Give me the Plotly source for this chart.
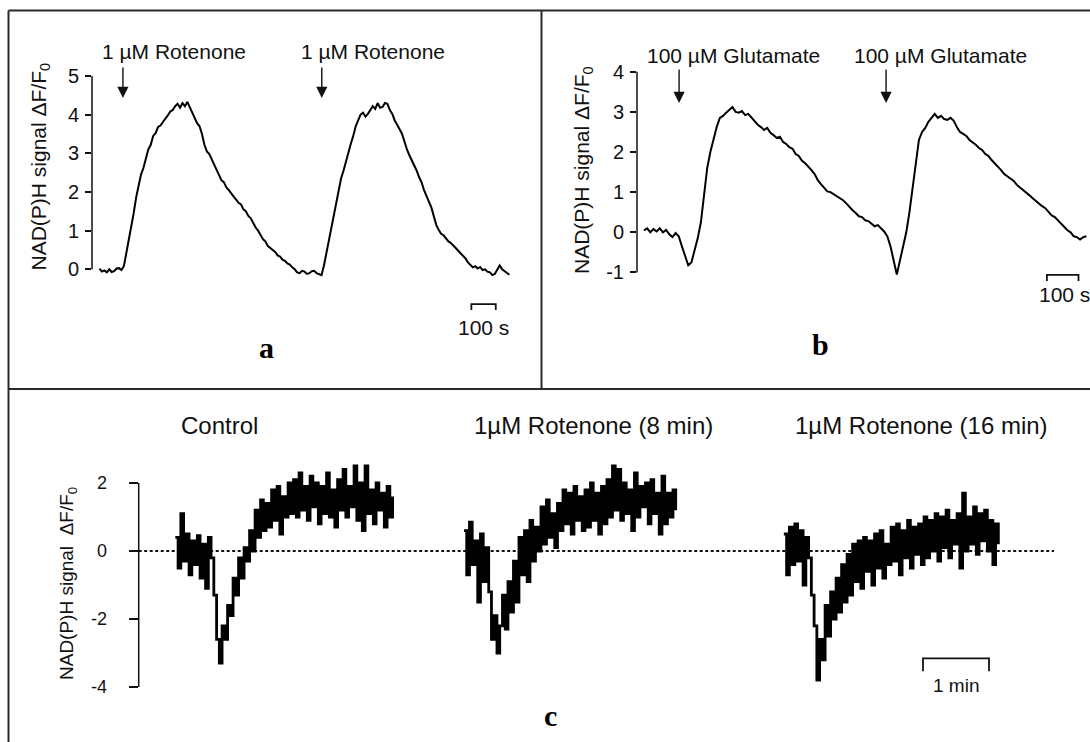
import plotly.graph_objects as go

# ---------------- data ----------------
# Panel a: NAD(P)H signal (dF/F0) with two 1 uM rotenone applications, sampled every 10 s
A_DT_S = 10
a_signal = [0.02, -0.06, -0.03, -0.08, 0.0, -0.07, -0.05, 0.02, 0.03, -0.02,
            0.08, 0.42, 0.72, 1.12, 1.45, 1.85, 2.15, 2.45, 2.62, 2.88,
            3.1, 3.22, 3.45, 3.52, 3.68, 3.72, 3.82, 3.9, 3.98, 4.08,
            4.12, 4.22, 4.28, 4.18, 4.3, 4.22, 4.33, 4.2, 4.05, 3.92,
            3.78, 3.7, 3.5, 3.22, 3.05, 2.98, 2.85, 2.7, 2.6, 2.45,
            2.3, 2.25, 2.12, 2.05, 1.95, 1.88, 1.8, 1.72, 1.68, 1.55,
            1.5, 1.38, 1.32, 1.18, 1.08, 1.0, 0.9, 0.78, 0.72, 0.6,
            0.55, 0.5, 0.45, 0.36, 0.33, 0.25, 0.22, 0.15, 0.12, 0.05,
            0.0, -0.08, -0.1, -0.04, -0.06, -0.12, -0.1, -0.05, -0.04, -0.1,
            -0.12, -0.15, 0.1, 0.42, 0.75, 1.12, 1.45, 1.8, 2.05, 2.35,
            2.55, 2.8, 2.98, 3.25, 3.45, 3.7, 3.85, 4.0, 4.05, 3.95,
            4.02, 4.12, 4.22, 4.15, 4.3, 4.18, 4.2, 4.3, 4.28, 4.12,
            4.02, 3.85, 3.75, 3.62, 3.5, 3.28, 3.1, 2.95, 2.82, 2.7,
            2.55, 2.38, 2.25, 2.05, 1.92, 1.75, 1.6, 1.38, 1.15, 1.02,
            0.92, 0.88, 0.8, 0.72, 0.68, 0.6, 0.55, 0.48, 0.42, 0.35,
            0.28, 0.18, 0.12, 0.05, 0.08, 0.02, 0.06, -0.02, 0.0, -0.06,
            -0.08, -0.15, -0.12, -0.02, 0.1, 0.0, -0.05, -0.1, -0.14]
a_injections_s = [96, 911]
a_injection_label = "1 \u00b5M Rotenone"
a_ticks = [0, 1, 2, 3, 4, 5]

# Panel b: two 100 uM glutamate applications, sampled every 10 s
B_DT_S = 10
b_signal = [0.05, 0.1, 0.0, 0.08, 0.02, 0.1, 0.0, 0.06, -0.05, -0.12,
            -0.02, -0.1, -0.35, -0.6, -0.82, -0.75, -0.45, -0.15, 0.25, 0.95,
            1.6, 2.0, 2.35, 2.62, 2.85, 2.9, 2.98, 3.05, 3.12, 3.0,
            2.98, 3.02, 2.92, 2.95, 2.85, 2.75, 2.68, 2.62, 2.55, 2.6,
            2.48, 2.42, 2.35, 2.38, 2.25, 2.2, 2.12, 2.08, 1.95, 1.9,
            1.78, 1.72, 1.62, 1.55, 1.45, 1.3, 1.2, 1.1, 1.02, 1.0,
            0.95, 0.9, 0.85, 0.8, 0.72, 0.62, 0.55, 0.48, 0.4, 0.38,
            0.3, 0.28, 0.22, 0.15, 0.18, 0.1, 0.02, -0.1, -0.35, -0.7,
            -1.05, -0.7, -0.35, 0.0, 0.5, 1.15, 1.8, 2.3, 2.5, 2.6,
            2.75, 2.85, 2.95, 2.85, 2.9, 2.82, 2.8, 2.85, 2.78, 2.62,
            2.5, 2.45, 2.4, 2.3, 2.25, 2.18, 2.1, 2.05, 1.95, 1.9,
            1.8, 1.72, 1.65, 1.55, 1.45, 1.4, 1.35, 1.28, 1.18, 1.12,
            1.05, 0.98, 0.92, 0.85, 0.78, 0.72, 0.65, 0.6, 0.52, 0.42,
            0.38, 0.3, 0.22, 0.15, 0.05, 0.0, -0.1, -0.12, -0.18, -0.12,
            -0.1]
b_injections_s = [111, 766]
b_injection_label = "100 \u00b5M Glutamate"
b_ticks = [-1, 0, 1, 2, 3, 4]

# Panel c: three recordings, sampled every 2.5 s
C_DT_S = 2.5
c_names = ["Control", "1\u00b5M Rotenone (8 min)", "1\u00b5M Rotenone (16 min)"]
c_start_s = [33.3, 295.7, 586.5]
c_control = [0.4, -0.5, 1.1, -0.3, 0.5, -0.7, 0.3, -0.4, 0.45, -0.8, 0.2, -1.1, 0.4,
             -0.2, -1.3,
             -2.6, -3.3, -2.2, -2.6, -1.6,
             -1.9, -0.8, -1.3, -0.2, -0.8,
             0.1, -0.3, 0.6, 0.0, 1.2,
             0.4, 1.5, 0.6, 1.4, 0.7,
             1.8, 0.9, 1.9, 0.5, 1.6,
             1.0, 2.0, 1.1, 2.1, 1.0, 2.3, 1.2, 1.9, 0.9, 2.2,
             1.3, 2.0, 0.8, 1.9, 1.1, 2.3, 1.0, 1.8, 0.7, 2.1,
             1.2, 2.4, 1.0, 1.9, 1.3, 2.5, 0.9, 2.0, 0.6, 2.5,
             1.1, 1.8, 0.8, 2.0, 1.2, 1.7, 0.7, 1.9, 1.0, 1.6]
c_rot8 = [0.6, -0.7, 0.85, -0.4, 0.3, -1.5, 0.5, -0.9, 0.1,
          -1.2, -2.6, -1.9, -3.0,
          -2.2, -1.3, -2.3, -0.9, -1.8,
          -0.3, -1.5, 0.4, -0.7, 0.6, -0.9, 0.9, -0.3, 0.7,
          0.0, 1.3, 0.2, 1.5, 0.4, 1.1, 0.1, 1.4,
          0.6, 1.8, 0.8, 1.7, 0.5, 1.9, 0.9, 1.6, 0.6, 1.8, 0.7, 2.0, 0.9, 1.7, 0.5, 1.9, 0.8,
          2.1, 1.0, 2.5, 1.2, 2.4, 0.9, 2.0, 1.1, 1.8, 0.6, 2.3, 1.0, 1.9, 1.3, 2.0, 0.8,
          2.1, 1.1, 1.7, 0.5, 2.2, 0.8, 1.7, 1.0, 1.8, 1.2]
c_rot16 = [0.5, -0.7, 0.7, -0.4, 0.8, -0.3, 0.6, -1.0, 0.4,
           -0.2, -1.3,
           -2.2, -3.8, -2.6,
           -3.2, -1.6, -2.5, -1.2, -2.0, -0.8,
           -1.8, -0.4, -1.5, -0.1, -1.3, 0.2, -0.9, 0.3, -1.1,
           0.4, -0.6, 0.3, -1.0, 0.5, -0.5, 0.6, -0.8, 0.2, -0.4, 0.7,
           -0.3, 0.8, -0.7, 0.6, -0.2, 0.9, -0.5, 0.7, -0.1, 0.8, -0.4, 1.0, -0.2, 0.9,
           0.0, 1.1, -0.3, 1.0, 0.1, 1.2, -0.2, 0.9, 0.2, 1.1, -0.5, 1.7, 0.0, 1.0, 0.2,
           1.3, -0.1, 1.1, 0.3, 1.2, 0.0, 0.9, -0.4, 0.8, 0.2]
c_traces = [c_control, c_rot8, c_rot16]
c_ticks = [-4, -2, 0, 2]

# ---------------- layout helpers ----------------
W, H = 1090, 742
SANS = "Liberation Sans, Arial, Helvetica, sans-serif"
SERIF = "Liberation Serif, Times New Roman, serif"
INK = "#111111"


def fx(p):
    return p / W


def fy(p):
    return 1 - p / H


def x_range(p0, p1, p_ref, v_ref, ppu):
    return [v_ref + (p0 - p_ref) / ppu, v_ref + (p1 - p_ref) / ppu]


def y_range(p_top, p_bot, p_ref, v_ref, ppu):
    return [v_ref - (p_bot - p_ref) / ppu, v_ref - (p_top - p_ref) / ppu]


fig = go.Figure()

fig.add_trace(go.Scatter(x=[i * A_DT_S for i in range(len(a_signal))], y=a_signal,
                         mode="lines", line=dict(color="black", width=2.0),
                         xaxis="x", yaxis="y", showlegend=False))
fig.add_trace(go.Scatter(x=[i * B_DT_S for i in range(len(b_signal))], y=b_signal,
                         mode="lines", line=dict(color="black", width=2.0),
                         xaxis="x2", yaxis="y2", showlegend=False))
for start, vals in zip(c_start_s, c_traces):
    fig.add_trace(go.Scatter(x=[start + i * C_DT_S for i in range(len(vals))], y=vals,
                             mode="lines", line=dict(color="black", width=2.8, shape="hv"),
                             xaxis="x3", yaxis="y3", showlegend=False))

tickfont_ab = dict(family=SANS, size=20, color=INK)
tickfont_c = dict(family=SANS, size=18, color=INK)


def yax(dom_top, dom_bot, rng, ticks, anchor, font, ticklen, standoff):
    return dict(domain=[fy(dom_bot), fy(dom_top)], range=rng, anchor=anchor,
                tickmode="array", tickvals=ticks, ticktext=[str(t) for t in ticks],
                ticks="outside", ticklen=ticklen, tickwidth=1.5, tickcolor=INK,
                showline=False, showgrid=False, zeroline=False, tickfont=font,
                ticklabelstandoff=standoff, fixedrange=True)


def xax(dom_l, dom_r, rng, anchor):
    return dict(domain=[fx(dom_l), fx(dom_r)], range=rng, anchor=anchor, visible=False,
                showgrid=False, zeroline=False, fixedrange=True)


A_T0, A_PPS = 99.5, 0.244
A_Y0, A_PPU = 269.3, 38.66
B_T0, B_PPS = 644.0, 0.316
B_Y0, B_PPU = 232.3, 40.15
C_T0, C_PPS = 138.7, 1.1
C_Y0, C_PPU = 551.0, 34.0

fig.update_layout(
    width=W, height=H, margin=dict(l=0, r=0, t=0, b=0),
    paper_bgcolor="white", plot_bgcolor="white",
    xaxis=xax(92, 530, x_range(92, 530, A_T0, 0, A_PPS), "y"),
    yaxis=yax(60, 312, y_range(60, 312, A_Y0, 0, A_PPU), a_ticks, "x", tickfont_ab, 6, 2),
    xaxis2=xax(637, 1090, x_range(637, 1090, B_T0, 0, B_PPS), "y2"),
    yaxis2=yax(60, 312, y_range(60, 312, B_Y0, 0, B_PPU), b_ticks, "x2", tickfont_ab, 6, 2),
    xaxis3=xax(138.7, 1060, x_range(138.7, 1060, C_T0, 0, C_PPS), "y3"),
    yaxis3=yax(445, 705, y_range(445, 705, C_Y0, 0, C_PPU), c_ticks, "x3", tickfont_c, 9, 18),
)

shapes = []
ann = []
BORDER = dict(color="#2a2a2a", width=2)
shapes += [
    dict(type="line", xref="paper", yref="paper", x0=fx(8.5), x1=fx(1100), y0=fy(10.5), y1=fy(10.5), line=BORDER),
    dict(type="line", xref="paper", yref="paper", x0=fx(8.5), x1=fx(8.5), y0=fy(10.5), y1=fy(760), line=BORDER),
    dict(type="line", xref="paper", yref="paper", x0=fx(8.5), x1=fx(1100), y0=fy(389), y1=fy(389), line=BORDER),
    dict(type="line", xref="paper", yref="paper", x0=fx(541.5), x1=fx(541.5), y0=fy(10.5), y1=fy(389), line=BORDER),
]
AXL = dict(color=INK, width=1.5)
for xr, yr, ticks in (("x", "y", a_ticks), ("x2", "y2", b_ticks), ("x3", "y3", c_ticks)):
    shapes.append(dict(type="line", xref=xr + " domain", yref=yr, x0=0, x1=0,
                       y0=min(ticks), y1=max(ticks), line=AXL))

shapes.append(dict(type="line", xref="x3", yref="y3", x0=0, x1=(1054 - C_T0) / C_PPS, y0=0, y1=0,
                   line=dict(color=INK, width=2, dash="3px,2.5px"), layer="below"))


def scalebar(xr, yr, t0, t1, v, dv):
    return dict(type="path", xref=xr, yref=yr,
                path=f"M {t0},{v - dv} L {t0},{v} L {t1},{v} L {t1},{v - dv}",
                line=dict(color=INK, width=1.8))


A_BAR = (1524, 1624, -0.9)
B_BAR = (1275, 1375, -1.06)
C_BAR = (713, 773, -3.16)
shapes.append(scalebar("x", "y", A_BAR[0], A_BAR[1], A_BAR[2], 0.15))
shapes.append(scalebar("x2", "y2", B_BAR[0], B_BAR[1], B_BAR[2], 0.15))
shapes.append(scalebar("x3", "y3", C_BAR[0], C_BAR[1], C_BAR[2], 0.38))

ann.append(dict(xref="x", yref="y", x=(A_BAR[0] + A_BAR[1]) / 2, y=A_BAR[2], yshift=-23,
                text="100 s", showarrow=False, font=dict(family=SANS, size=21, color=INK)))
ann.append(dict(xref="x2", yref="y2", x=B_BAR[0] - 30, y=B_BAR[2], yshift=-20, xanchor="left",
                text="100 s", showarrow=False, font=dict(family=SANS, size=21, color=INK)))
ann.append(dict(xref="x3", yref="y3", x=(C_BAR[0] + C_BAR[1]) / 2, y=C_BAR[2], yshift=-27,
                text="1 min", showarrow=False, font=dict(family=SANS, size=19, color=INK)))

for t in a_injections_s:
    ann.append(dict(xref="x", yref="y", x=t, y=(A_Y0 - 98) / A_PPU, ax=0, ay=-32,
                    showarrow=True, arrowhead=2, arrowsize=1.6, arrowwidth=1.4, arrowcolor=INK, text=""))
    ann.append(dict(xref="x", yref="paper", x=t, xshift=-23, xanchor="left", y=fy(51), yanchor="middle",
                    text=a_injection_label, showarrow=False, font=dict(family=SANS, size=21, color=INK)))
for t in b_injections_s:
    ann.append(dict(xref="x2", yref="y2", x=t, y=(B_Y0 - 103) / B_PPU, ax=0, ay=-35,
                    showarrow=True, arrowhead=2, arrowsize=1.6, arrowwidth=1.4, arrowcolor=INK, text=""))
    ann.append(dict(xref="x2", yref="paper", x=t, xshift=-34, xanchor="left", y=fy(56), yanchor="middle",
                    text=b_injection_label, showarrow=False, font=dict(family=SANS, size=21, color=INK)))

c_title_px = [219, 593, 921.5]
for name, cx in zip(c_names, c_title_px):
    ann.append(dict(xref="paper", yref="paper", x=fx(cx), y=fy(425), xanchor="center", yanchor="middle",
                    text=name, showarrow=False, font=dict(family=SANS, size=24, color=INK)))

ytitle = "NAD(P)H signal \u0394F/F<sub>0</sub>"
ytitle_c = "NAD(P)H signal\u00a0\u00a0\u0394F/F<sub>0</sub>"
for (cx, cy, txt, size) in ((39.5, 167, ytitle, 21), (583, 170, ytitle, 21), (68, 584, ytitle_c, 19)):
    ann.append(dict(xref="paper", yref="paper", x=fx(cx), y=fy(cy), xanchor="center", yanchor="middle",
                    textangle=-90, text=txt, showarrow=False, font=dict(family=SANS, size=size, color=INK)))

for letter, cx, cy in (("a", 266, 347), ("b", 820, 345), ("c", 550.5, 715)):
    ann.append(dict(xref="paper", yref="paper", x=fx(cx), y=fy(cy), xanchor="center", yanchor="middle",
                    text=f"<b>{letter}</b>", showarrow=False, font=dict(family=SERIF, size=30, color="black")))

fig.update_layout(shapes=shapes, annotations=ann)
fig.write_html("out.html")
